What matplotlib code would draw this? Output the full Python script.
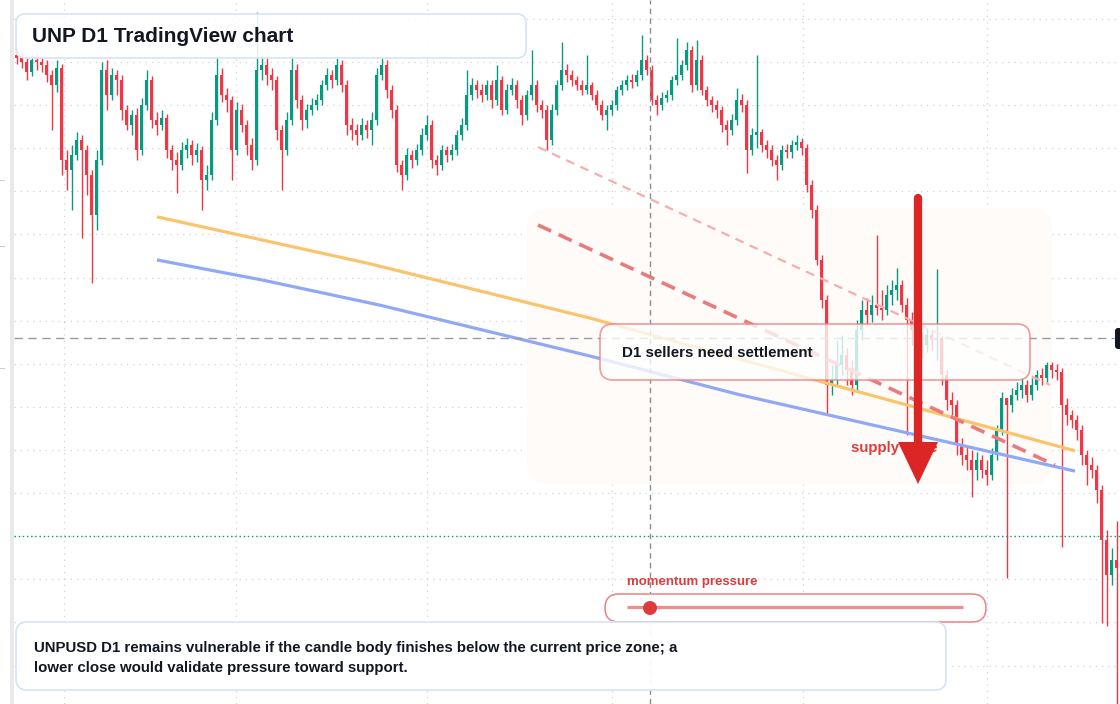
import matplotlib
matplotlib.use("Agg")
import matplotlib.pyplot as plt
import matplotlib.colors as mcolors
from matplotlib.patches import FancyBboxPatch, Polygon, Circle, Rectangle
from matplotlib.transforms import Affine2D
import numpy as np

plt.rcParams['font.family'] = ['Liberation Sans', 'DejaVu Sans']

# --- daily candles (price units), open = previous close ---
first_open = 251.6
closes = [
    250.9, 250.0, 247.7, 250.5, 250.0, 249.3, 247.0, 244.7, 248.6, 227.3,
    225.0, 228.4, 231.9, 229.6, 223.8, 214.5, 227.3, 248.2, 242.4, 247.0,
    245.8, 238.9, 235.4, 237.7, 229.6, 240.0, 245.8, 236.6, 235.4, 237.0,
    229.6, 227.3, 226.1, 229.6, 230.8, 228.4, 229.6, 222.6, 223.8, 236.6,
    247.0, 242.4, 241.2, 229.6, 238.9, 235.4, 230.8, 227.3, 248.2, 249.3,
    247.0, 245.8, 234.2, 229.6, 236.6, 248.2, 241.2, 236.6, 238.9, 240.0,
    241.2, 244.7, 247.0, 245.8, 249.3, 244.7, 235.4, 234.2, 233.1, 235.4,
    234.2, 236.6, 247.0, 249.3, 243.5, 238.9, 226.1, 223.8, 228.4, 227.3,
    229.6, 233.1, 235.4, 227.3, 226.1, 229.6, 228.4, 229.6, 233.1, 235.4,
    242.4, 244.7, 243.5, 242.4, 244.7, 241.2, 245.8, 238.9, 243.5, 244.7,
    241.2, 237.7, 242.4, 244.7, 240.0, 238.9, 231.9, 238.9, 244.7, 248.2,
    247.0, 245.8, 244.7, 243.5, 244.7, 242.4, 240.0, 237.7, 238.9, 240.0,
    243.5, 244.7, 245.8, 245.4, 247.0, 250.5, 248.2, 241.2, 240.0, 241.7,
    242.4, 245.8, 247.0, 249.3, 252.8, 244.7, 250.5, 243.5, 241.2, 240.0,
    238.9, 235.4, 234.2, 236.6, 241.2, 240.0, 229.6, 233.1, 233.8, 230.8,
    229.6, 227.3, 226.1, 229.6, 229.1, 230.8, 231.5, 230.1, 221.5, 215.7,
    204.1, 194.8, 175.1, 176.2, 179.7, 182.0, 178.6, 175.1, 187.8, 192.5,
    191.3, 193.6, 193.0, 192.5, 196.0, 197.1, 198.3, 193.6, 190.2, 187.8,
    185.5, 184.4, 186.7, 185.5, 186.0, 177.4, 171.6, 170.4, 161.2, 158.8,
    157.7, 155.4, 157.7, 155.4, 154.2, 158.8, 164.6, 172.1, 170.4, 172.8,
    173.9, 175.1, 172.8, 175.1, 177.4, 176.7, 179.7, 178.6, 178.1, 170.4,
    168.1, 167.0, 164.6, 158.8, 156.5, 155.4, 150.7, 139.1, 131.0, 134.5,
    132.6,
]
highs = [
    253.3, 252.3, 250.9, 251.6, 251.9, 251.4, 250.5, 248.2, 250.5, 249.5,
    229.6, 230.8, 233.8, 233.1, 230.8, 225.0, 229.6, 250.0, 250.5, 248.6,
    248.2, 247.0, 240.0, 238.9, 239.3, 241.7, 248.2, 246.8, 238.4, 238.9,
    237.9, 230.8, 229.1, 231.5, 232.4, 231.9, 231.2, 230.5, 226.1, 238.4,
    251.6, 248.6, 244.0, 242.1, 240.7, 240.3, 236.6, 232.4, 261.6, 251.6,
    250.9, 248.6, 246.8, 235.4, 238.4, 251.6, 249.5, 242.4, 240.3, 241.7,
    242.6, 245.8, 248.6, 248.2, 250.9, 250.5, 245.8, 237.0, 235.6, 237.0,
    236.6, 238.4, 248.6, 250.9, 250.5, 244.7, 240.0, 227.3, 230.1, 229.6,
    231.0, 234.7, 237.7, 236.6, 228.4, 230.8, 230.5, 231.0, 234.2, 237.0,
    248.2, 246.3, 245.8, 244.9, 245.8, 245.8, 249.3, 246.8, 244.9, 246.3,
    245.8, 242.4, 243.5, 252.8, 245.8, 241.2, 240.0, 240.3, 245.8, 254.7,
    249.5, 248.2, 246.8, 245.8, 251.6, 245.4, 243.5, 241.2, 240.0, 241.2,
    244.4, 245.8, 247.0, 247.2, 248.2, 256.3, 251.6, 249.3, 242.4, 243.1,
    243.5, 246.8, 255.6, 250.5, 254.7, 253.7, 255.1, 251.6, 244.4, 242.1,
    241.2, 239.8, 236.6, 237.9, 244.0, 242.6, 241.2, 234.7, 251.6, 234.5,
    231.9, 230.8, 228.4, 230.8, 231.0, 231.9, 233.1, 232.4, 231.0, 222.6,
    216.8, 205.2, 196.0, 179.7, 185.5, 186.7, 183.7, 180.9, 190.2, 194.8,
    195.3, 196.0, 209.9, 197.1, 198.3, 199.4, 202.2, 199.4, 195.3, 192.0,
    189.7, 187.4, 188.3, 187.8, 202.0, 186.5, 178.6, 173.5, 171.6, 162.8,
    161.2, 160.0, 159.5, 158.8, 157.7, 160.5, 165.8, 173.5, 172.1, 174.4,
    175.8, 176.7, 176.2, 176.7, 178.6, 179.0, 180.4, 180.4, 180.0, 179.0,
    172.1, 169.3, 168.1, 165.8, 160.0, 158.3, 156.5, 151.9, 141.4, 137.3,
    143.5,
]
lows = [
    249.5, 248.6, 245.8, 246.8, 248.2, 247.7, 245.4, 234.2, 243.1, 223.8,
    220.3, 215.7, 227.3, 209.2, 219.2, 198.7, 211.0, 226.1, 238.9, 241.2,
    242.4, 236.6, 234.2, 233.1, 227.3, 228.4, 238.9, 234.7, 233.1, 234.2,
    227.7, 225.0, 219.6, 225.0, 227.7, 226.1, 226.8, 215.7, 220.3, 222.6,
    235.4, 240.7, 238.4, 222.6, 228.4, 233.8, 228.4, 225.0, 226.1, 245.8,
    244.7, 243.5, 231.9, 220.3, 228.4, 235.4, 239.3, 234.2, 234.7, 237.7,
    238.9, 240.0, 243.5, 244.0, 244.7, 243.1, 233.1, 231.9, 230.8, 231.9,
    232.4, 230.8, 235.4, 245.8, 241.7, 237.0, 224.5, 220.3, 222.6, 225.4,
    226.1, 228.4, 231.9, 225.4, 223.8, 225.0, 226.8, 227.3, 228.4, 231.9,
    234.2, 241.2, 241.7, 240.7, 241.2, 239.3, 240.0, 237.7, 237.9, 242.4,
    239.3, 235.4, 236.6, 241.2, 238.4, 237.0, 229.6, 230.8, 237.7, 243.5,
    245.4, 244.4, 243.5, 242.4, 242.6, 241.2, 238.9, 236.6, 234.2, 237.7,
    238.9, 242.4, 243.5, 244.0, 244.4, 245.8, 247.0, 240.0, 237.7, 238.9,
    240.7, 241.2, 244.7, 245.8, 248.2, 243.1, 243.5, 242.4, 239.8, 238.4,
    237.0, 233.8, 230.8, 233.1, 235.4, 238.4, 224.3, 228.4, 230.1, 229.1,
    227.7, 225.9, 222.6, 225.0, 227.7, 227.7, 229.6, 228.4, 219.9, 213.8,
    202.9, 193.0, 168.6, 172.8, 175.1, 177.4, 175.1, 172.8, 173.9, 185.5,
    189.0, 189.7, 191.3, 190.2, 191.3, 193.6, 194.8, 192.0, 163.5, 184.4,
    183.2, 181.3, 182.7, 183.2, 180.9, 175.1, 169.3, 168.1, 158.8, 156.5,
    155.4, 149.1, 153.0, 153.5, 151.9, 153.0, 157.7, 163.5, 130.3, 168.8,
    171.6, 172.1, 171.1, 171.6, 173.9, 175.1, 175.8, 176.7, 176.2, 137.5,
    165.8, 165.1, 162.3, 156.5, 151.9, 153.5, 147.7, 119.9, 119.2, 128.7,
    97.4,
]

# moving-average style curves (bar index, price)
ma_fast_x = [28.1, 70.7, 114.7, 162.7, 211.7]
ma_fast_y = [214.1, 203.2, 190.6, 175.3, 159.8]
ma_slow_x = [28.1, 49.3, 72.7, 114.7, 144.7, 211.7]
ma_slow_y = [204.1, 199.4, 193.6, 181.8, 172.8, 155.1]

# descending trend lines
trend_light_x = [104.3, 206.7]
trend_light_y = [230.3, 175.1]
trend_dark_x = [104.3, 207.7]
trend_dark_y = [212.2, 156.5]

price_levels = [110, 120, 130, 140, 150, 160, 170, 180, 190, 200, 210, 220, 230, 240, 250, 260]
time_grid = [9.5, 43.9, 82.1, 119.1, 157.3, 194.1]
cross_x = 126.7
cross_price = 186.0
last_price = 140.0

GREEN = '#089981'
RED = '#F23645'
DARK = '#131722'

W, H = 1120, 704
fig = plt.figure(figsize=(W / 100, H / 100), dpi=100)
fig.patch.set_facecolor('white')
ax = fig.add_axes([14 / W, 0, 1 - 14 / W, 1])
ax.set_xlim(-0.5, 220.7)
ax.set_ylim(101.07, 264.4)
ax.axis('off')

# pixel transform (top-left origin) for the annotation layer
px = Affine2D().scale(1, -1).translate(0, H)

# left strip and tiny scale ticks
fig.add_artist(Rectangle((10, 0), 4, H, transform=px, fc='#e9e9e9', ec='none'))
for ty in [180, 246, 368]:
    fig.add_artist(plt.Line2D([0, 4], [ty, ty], transform=px, color='#cfcfcf', lw=0.8))

# grid
ax.hlines(price_levels, -0.5, 220.7, colors='#d2d2d2', lw=0.9, linestyles=(0, (1, 4)), zorder=0)
for gx in time_grid:
    ax.axvline(gx, color='#d2d2d2', lw=0.9, ls=(0, (1, 4)), zorder=0)


def rbox(x0, y0, x1, y1, r, fc, ec='none', lw=1.2, z=5):
    p = FancyBboxPatch((x0, y0), x1 - x0, y1 - y0,
                       boxstyle=f"round,pad=0,rounding_size={r}",
                       fc=fc, ec=ec, lw=lw, transform=px, clip_on=False, zorder=z)
    ax.add_patch(p)
    return p


# faint highlighted zone behind the candles
rbox(527, 208, 1052, 484, 22, '#fefbf9', z=0.5)

# candles
closes = np.array(closes)
opens = np.concatenate([[first_open], closes[:-1]])
highs = np.maximum.reduce([np.array(highs), opens, closes])
lows = np.minimum.reduce([np.array(lows), opens, closes])
idx = np.arange(len(closes))
cols = np.where(closes >= opens, GREEN, RED)
ax.vlines(idx, lows, highs, colors=cols, lw=1.0, zorder=2)
body_lo = np.minimum(opens, closes)
body_h = np.maximum(np.abs(closes - opens), 0.3)
ax.bar(idx, body_h, bottom=body_lo, width=0.6, color=cols, lw=0, zorder=2)

# moving averages
ax.plot(ma_fast_x, ma_fast_y, color='#F9C46C', lw=2.3, zorder=3, solid_capstyle='butt')
ax.plot(ma_slow_x, ma_slow_y, color='#8FA9F6', lw=2.3, zorder=3, solid_capstyle='butt')

# trend lines
ax.plot(trend_light_x, trend_light_y, color='#F4AEAE', lw=1.6, ls=(0, (4, 3)), zorder=3)
ax.plot(trend_dark_x, trend_dark_y, color='#EA7B7B', lw=2.6, ls=(0, (4, 2.3)), zorder=3)

# crosshair and last price line
ax.axvline(cross_x, color='#8c8c8c', lw=1.0, ls=(0, (4, 3)), zorder=4)
ax.hlines([cross_price], -0.5, 219.5, colors='#9a9a9a', lw=1.0, linestyles=(0, (6, 4)), zorder=4)
ax.hlines([last_price], -0.5, 220.7, colors=GREEN, lw=1.0, linestyles=(0, (1, 2)), zorder=4)
rbox(1115, 328, 1128, 349, 3, '#131722', z=8)

# title box
rbox(16, 14, 526, 58, 9, mcolors.to_rgba('white', 0.88), ec='#d6e3f6', lw=1.2, z=5)
ax.text(32, 36, "UNP D1 TradingView chart", transform=px, fontsize=15, fontweight='bold',
        color=DARK, ha='left', va='center', zorder=6)

# settlement callout
rbox(600, 324, 1030, 380, 13, mcolors.to_rgba('white', 0.78), ec=mcolors.to_rgba('#EE8080', 0.8), lw=1.2, z=5)
ax.text(622, 353, "D1 sellers need settlement", transform=px, fontsize=10.9, fontweight='bold',
        color=DARK, ha='left', va='center', zorder=6)

# supply zone label and arrow
ax.text(851, 448, "supply zone", transform=px, fontsize=10.8, fontweight='bold',
        color='#E03B3B', ha='left', va='center', zorder=6)
ax.plot([918, 918], [198, 446], transform=px, color='#DC2626', lw=6.0,
        solid_capstyle='round', zorder=7, clip_on=False)
ax.add_patch(Polygon([[898, 442], [938, 442], [918, 484]], closed=True, transform=px,
                     fc='#DC2626', ec='none', zorder=7, clip_on=False))

# momentum gauge
ax.text(627, 582, "momentum pressure", transform=px, fontsize=9.5, fontweight='bold',
        color='#E03B3B', ha='left', va='center', zorder=6)
rbox(605, 594, 986, 622, 14, 'white', ec='#EE8A8A', lw=1.2, z=5)
ax.plot([627, 963], [607, 607], transform=px, color='#F08C8C', lw=2.3, zorder=6,
        solid_capstyle='butt', clip_on=False)
ax.add_patch(Circle((650, 608), 7, transform=px, fc='#E03B3B', ec='none', zorder=7, clip_on=False))

# bottom note
rbox(16, 622, 946, 690, 11, mcolors.to_rgba('white', 0.95), ec='#d6e3f6', lw=1.2, z=5)
ax.text(34, 648, "UNPUSD D1 remains vulnerable if the candle body finishes below the current price zone; a",
        transform=px, fontsize=10.8, fontweight='bold', color=DARK, ha='left', va='center', zorder=6)
ax.text(34, 668, "lower close would validate pressure toward support.",
        transform=px, fontsize=10.8, fontweight='bold', color=DARK, ha='left', va='center', zorder=6)

fig.savefig('out.png', dpi=100)
